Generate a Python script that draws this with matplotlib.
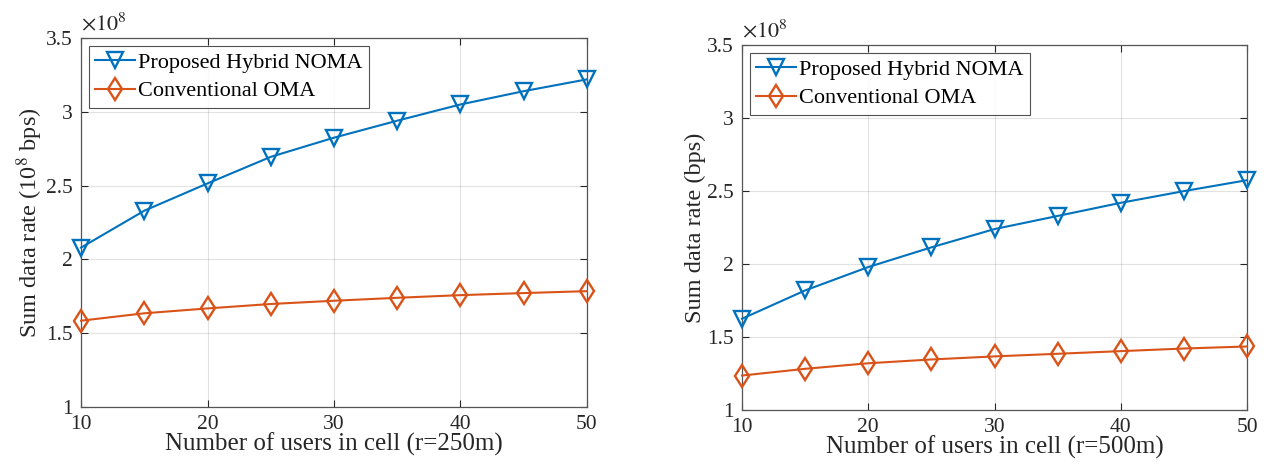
import numpy as np
import matplotlib.pyplot as plt

plt.rcParams['font.family'] = ['Liberation Serif', 'DejaVu Serif']
plt.rcParams['mathtext.fontset'] = 'stix'

# data, sum rate in units of 1e8 bps
users = [10, 15, 20, 25, 30, 35, 40, 45, 50]
noma_250 = [2.08, 2.33, 2.515, 2.695, 2.825, 2.94, 3.05, 3.14, 3.22]
oma_250 = [1.585, 1.635, 1.668, 1.698, 1.72, 1.74, 1.758, 1.772, 1.785]
noma_500 = [1.626, 1.82, 1.98, 2.115, 2.24, 2.33, 2.42, 2.50, 2.575]
oma_500 = [1.237, 1.283, 1.321, 1.347, 1.368, 1.386, 1.404, 1.422, 1.436]

xticks = [10, 20, 30, 40, 50]
yticks = [1, 1.5, 2, 2.5, 3, 3.5]
ytick_labels = ['1', '1.5', '2', '2.5', '3', '3.5']

blue = '#0072BD'
orange = '#D95319'
axcol = '#262626'

fig = plt.figure(figsize=(12.68, 4.65), dpi=100)
ax1 = fig.add_axes([0.0639, 0.1247, 0.399, 0.7935])
ax2 = fig.add_axes([0.5852, 0.118, 0.3983, 0.785])

panels = [
    (ax1, noma_250, oma_250, 'Sum data rate (10$^8$ bps)', 'Number of users in cell (r=250m)'),
    (ax2, noma_500, oma_500, 'Sum data rate (bps)', 'Number of users in cell (r=500m)'),
]

for ax, noma, oma, ylab, xlab in panels:
    ax.plot(users, noma, color=blue, lw=1.5, marker='v', ms=11.5,
            mfc='none', mew=1.7, label='Proposed Hybrid NOMA', clip_on=False, zorder=3)
    ax.plot(users, oma, color=orange, lw=1.5, marker='d', ms=11.5,
            mfc='none', mew=1.7, label='Conventional OMA', clip_on=False, zorder=3)
    ax.set_xlim(10, 50)
    ax.set_ylim(1, 3.5)
    ax.set_xticks(xticks)
    ax.set_yticks(yticks)
    ax.set_yticklabels(ytick_labels)
    ax.grid(True, color='#262626', alpha=0.13, lw=0.8)
    ax.tick_params(direction='in', top=True, right=True, labelsize=15.5,
                   colors=axcol, length=5, width=0.8)
    ax.tick_params(axis='x', pad=6)
    ax.tick_params(axis='y', pad=6)
    for s in ax.spines.values():
        s.set_color('#555555')
        s.set_linewidth(0.9)
    ax.set_xlabel(xlab, fontsize=18, color=axcol, labelpad=-1)
    ax.set_ylabel(ylab, fontsize=17.5, color=axcol, labelpad=1)
    ax.text(0.0, 1.008, r'$\times 10^8$', transform=ax.transAxes, fontsize=16,
            color=axcol, ha='left', va='bottom')
    leg = ax.legend(loc='upper left', fontsize=16, frameon=True, fancybox=False,
                    borderaxespad=0.35, handlelength=1.8, handletextpad=0.1,
                    labelspacing=0.35, borderpad=0.3)
    leg.get_frame().set_edgecolor('#262626')
    leg.get_frame().set_linewidth(0.8)

fig.savefig('out.png', dpi=100)
